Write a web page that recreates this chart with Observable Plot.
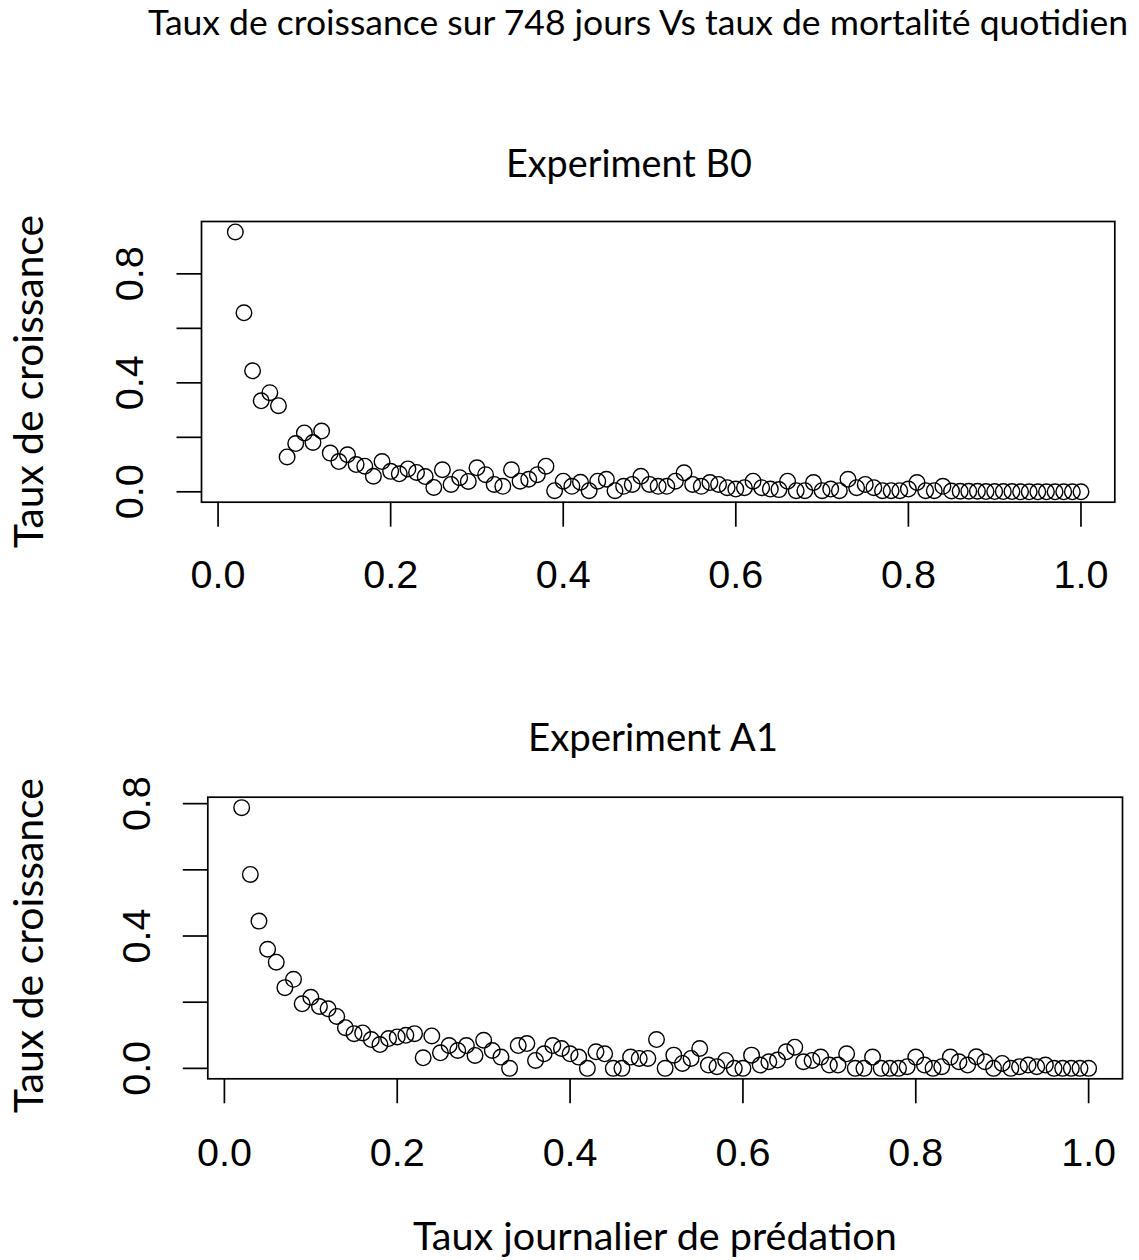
<!DOCTYPE html>
<html><head><meta charset="utf-8">
<script src="https://cdn.jsdelivr.net/npm/d3@7"></script>
<script src="https://cdn.jsdelivr.net/npm/@observablehq/plot@0.6"></script>
<style>
html,body{margin:0;padding:0;background:#fff;}
#page{position:relative;width:1139px;height:1260px;overflow:hidden;background:#fff;}
#page .panel{position:absolute;left:0;}
#labels{position:absolute;left:0;top:0;}
</style></head><body><div id="page"></div>
<script>
const predationRate = [0.02,0.03,0.04,0.05,0.06,0.07,0.08,0.09,0.10,0.11,0.12,0.13,0.14,0.15,0.16,0.17,0.18,0.19,0.20,
0.21,0.22,0.23,0.24,0.25,0.26,0.27,0.28,0.29,0.30,0.31,0.32,0.33,0.34,0.35,0.36,0.37,0.38,0.39,0.40,
0.41,0.42,0.43,0.44,0.45,0.46,0.47,0.48,0.49,0.50,0.51,0.52,0.53,0.54,0.55,0.56,0.57,0.58,0.59,0.60,
0.61,0.62,0.63,0.64,0.65,0.66,0.67,0.68,0.69,0.70,0.71,0.72,0.73,0.74,0.75,0.76,0.77,0.78,0.79,0.80,
0.81,0.82,0.83,0.84,0.85,0.86,0.87,0.88,0.89,0.90,0.91,0.92,0.93,0.94,0.95,0.96,0.97,0.98,0.99,1.00];

const growthB0 = [0.954,0.657,0.444,0.334,0.364,0.316,0.128,0.177,0.216,0.181,0.223,0.142,0.111,0.136,0.100,0.094,0.057,0.111,0.075,
0.066,0.084,0.071,0.056,0.016,0.081,0.027,0.052,0.038,0.088,0.063,0.027,0.020,0.081,0.039,0.046,0.063,0.094,0.004,0.039,
0.020,0.035,0.004,0.039,0.046,0.004,0.020,0.027,0.057,0.027,0.020,0.020,0.039,0.070,0.027,0.020,0.034,0.027,0.015,0.010,
0.015,0.039,0.015,0.010,0.008,0.039,0.004,0.004,0.034,0.004,0.010,0.004,0.046,0.015,0.027,0.015,0.004,0.004,0.004,0.010,
0.034,0.004,0.004,0.020,0.003,0.002,0.002,0.002,0.001,0.001,0.001,0.001,0.000,0.000,0.000,0.000,0.000,0.000,0.000,0.000];

const growthA1 = [0.788,0.586,0.445,0.360,0.321,0.244,0.269,0.195,0.215,0.187,0.180,0.157,0.123,0.105,0.107,0.087,0.072,0.090,0.095,
0.100,0.105,0.032,0.098,0.047,0.069,0.054,0.069,0.039,0.085,0.054,0.034,0.000,0.069,0.075,0.024,0.044,0.069,0.060,0.044,
0.034,0.000,0.050,0.044,0.000,0.000,0.034,0.030,0.030,0.087,0.000,0.040,0.015,0.030,0.060,0.010,0.005,0.024,0.000,0.000,
0.040,0.010,0.020,0.025,0.050,0.064,0.020,0.024,0.034,0.010,0.010,0.044,0.000,0.000,0.034,0.000,0.000,0.000,0.005,0.034,
0.010,0.000,0.005,0.034,0.020,0.010,0.035,0.020,0.000,0.015,0.000,0.005,0.010,0.005,0.010,0.000,0.000,0.000,0.000,0.000];

const xTicks = [0, 0.2, 0.4, 0.6, 0.8, 1.0];
const xTickLabels = ["0.0", "0.2", "0.4", "0.6", "0.8", "1.0"];
const yTicks = [0, 0.2, 0.4, 0.6, 0.8];
const yTickLabels = ["0.0", "", "0.4", "", "0.8"];

const mainTitle = "Taux de croissance sur 748 jours Vs taux de mortalité quotidien";
const panelTitles = ["Experiment B0", "Experiment A1"];
const yLabel = "Taux de croissance";
const xLabel = "Taux journalier de prédation";

function rDomain(vals) {
  const [a, b] = d3.extent(vals);
  const p = (b - a) * 0.04;
  return [a - p, b + p];
}
function lookup(ticks, labels) {
  return d => { const i = ticks.findIndex(t => Math.abs(t - d) < 1e-9); return i < 0 ? "" : labels[i]; };
}

const page = document.getElementById("page");

function panel(values, o) {
  const data = predationRate.map((x, i) => ({x, y: values[i]}));
  const chart = Plot.plot({
    width: 1139, height: o.height,
    marginTop: o.mt, marginBottom: o.mb, marginLeft: o.ml, marginRight: o.mr,
    style: {fontFamily: "'Liberation Sans', Arial, sans-serif", fontSize: "39.5px", color: "#000", background: "transparent", overflow: "visible"},
    x: {domain: rDomain(predationRate)},
    y: {domain: rDomain(values)},
    marks: [
      Plot.frame({stroke: "#000", strokeWidth: 1.7}),
      Plot.axisX({ticks: xTicks, tickFormat: lookup(xTicks, xTickLabels), tickSize: 25, tickPadding: o.xpad, label: null, fontSize: 39.5, stroke: "#000", strokeWidth: 1.7}),
      Plot.axisY({ticks: yTicks, tickFormat: lookup(yTicks, yTickLabels), tickSize: 24.5, tickPadding: o.ypad, tickRotate: -90, label: null, fontSize: 39.5, stroke: "#000", strokeWidth: 1.7}),
      Plot.dot(data, {x: "x", y: "y", r: 7.8, stroke: "#000", strokeWidth: 1.4, fill: "none"})
    ]
  });
  chart.classList.add("panel");
  chart.style.top = o.top + "px";
  page.appendChild(chart);
}

panel(growthB0, {top: 200, height: 420, mt: 21, mb: 118.3, ml: 201, mr: 24.7, xpad: 33, ypad: 34});
panel(growthA1, {top: 775, height: 420, mt: 21.7, mb: 116.7, ml: 207.3, mr: 17, xpad: 34, ypad: 33});

// text overlay
const NS = "http://www.w3.org/2000/svg";
const svg = document.createElementNS(NS, "svg");
svg.setAttribute("id", "labels");
svg.setAttribute("width", 1139);
svg.setAttribute("height", 1260);
page.appendChild(svg);

function fitText(str, {x, y, w, rotate = 0}) {
  const t = document.createElementNS(NS, "text");
  t.textContent = str;
  t.setAttribute("font-family", "Lato, 'Open Sans', sans-serif");
  t.setAttribute("font-size", 30);
  t.setAttribute("fill", "#000");
  svg.appendChild(t);
  const len = t.getComputedTextLength();
  t.setAttribute("font-size", (30 * w / len).toFixed(2));
  if (rotate) {
    t.setAttribute("text-anchor", "middle");
    t.setAttribute("transform", `translate(${x},${y}) rotate(${rotate})`);
  } else {
    t.setAttribute("x", x);
    t.setAttribute("y", y);
  }
  return t;
}

fitText(mainTitle, {x: 148, y: 35, w: 980});
fitText(panelTitles[0], {x: 506, y: 176.7, w: 246});
fitText(panelTitles[1], {x: 528, y: 751, w: 250});
fitText(yLabel, {x: 43, y: 381.5, w: 333, rotate: -90});
fitText(yLabel, {x: 43, y: 945.5, w: 335, rotate: -90});
fitText(xLabel, {x: 413, y: 1250, w: 484});
</script></body></html>
